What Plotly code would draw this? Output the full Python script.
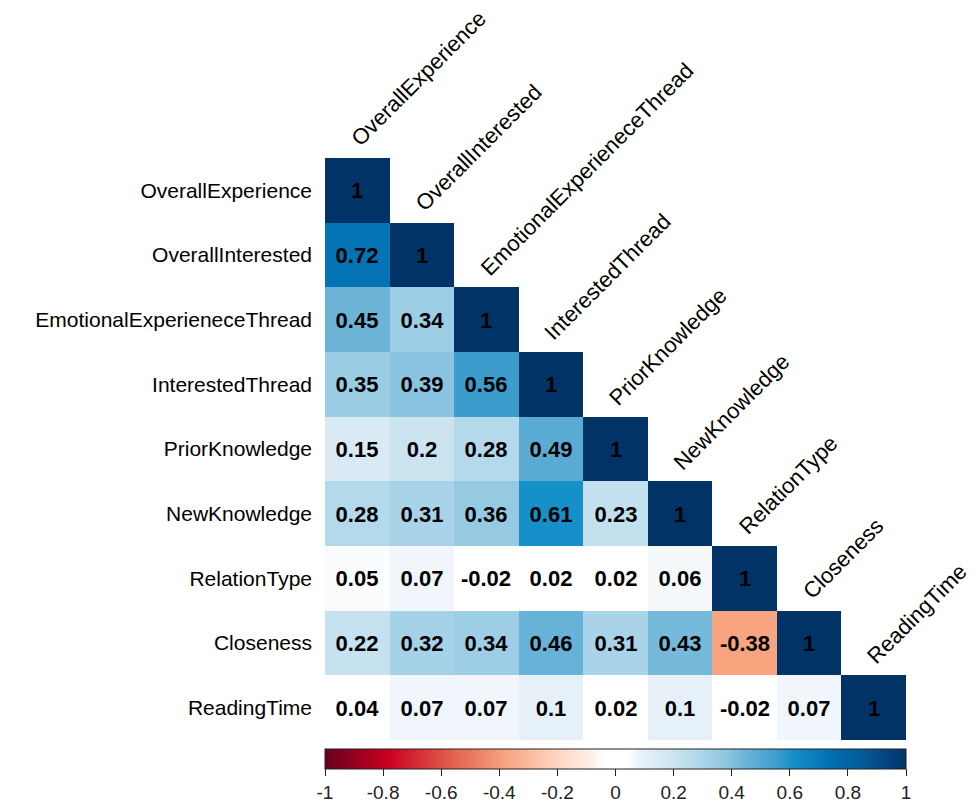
import plotly.graph_objects as go

# Variables of the correlation matrix (row/column order)
variables = [
    "OverallExperience",
    "OverallInterested",
    "EmotionalExperieneceThread",
    "InterestedThread",
    "PriorKnowledge",
    "NewKnowledge",
    "RelationType",
    "Closeness",
    "ReadingTime",
]

# Lower-triangle correlation rows (row i has i+1 values)
r_overall_experience = [1]
r_overall_interested = [0.72, 1]
r_emotional_thread = [0.45, 0.34, 1]
r_interested_thread = [0.35, 0.39, 0.56, 1]
r_prior_knowledge = [0.15, 0.2, 0.28, 0.49, 1]
r_new_knowledge = [0.28, 0.31, 0.36, 0.61, 0.23, 1]
r_relation_type = [0.05, 0.07, -0.02, 0.02, 0.02, 0.06, 1]
r_closeness = [0.22, 0.32, 0.34, 0.46, 0.31, 0.43, -0.38, 1]
r_reading_time = [0.04, 0.07, 0.07, 0.1, 0.02, 0.1, -0.02, 0.07, 1]

lower_rows = [
    r_overall_experience, r_overall_interested, r_emotional_thread,
    r_interested_thread, r_prior_knowledge, r_new_knowledge,
    r_relation_type, r_closeness, r_reading_time,
]

colorbar_ticks = [-1, -0.8, -0.6, -0.4, -0.2, 0, 0.2, 0.4, 0.6, 0.8, 1]
colorbar_ticktext = ["-1", "-0.8", "-0.6", "-0.4", "-0.2", "0", "0.2", "0.4", "0.6", "0.8", "1"]

n = len(variables)
z = [[row[j] if j < len(row) else None for j in range(n)] for row in lower_rows]
text = [[(f"{v:g}" if v is not None else "") for v in row] for row in z]

# Diverging red-white-blue palette, anchors given in correlation units
palette_anchors = [
    (-1.00, "#67001F"),
    (-0.78, "#CA0020"),
    (-0.55, "#E2664F"),
    (-0.38, "#F7A47F"),
    (-0.20, "#FDD5C2"),
    (-0.08, "#FEF1EA"),
    (-0.04, "#FFFFFF"),
    (0.04, "#FFFFFF"),
    (0.08, "#EBF3F9"),
    (0.10, "#E6F0F8"),
    (0.20, "#CCE4F0"),
    (0.28, "#B3D9EB"),
    (0.35, "#9ACCE4"),
    (0.39, "#8AC4E0"),
    (0.45, "#6BB4D8"),
    (0.56, "#3C9CCC"),
    (0.61, "#1690C8"),
    (0.72, "#0373B5"),
    (0.85, "#045A9A"),
    (1.00, "#023366"),
]
scale = [[(v + 1) / 2, c] for v, c in palette_anchors]

FONT = "Liberation Sans, Arial, Helvetica, sans-serif"

fig = go.Figure(
    go.Heatmap(
        z=z,
        x=variables,
        y=variables,
        text=text,
        texttemplate="%{text}",
        textfont=dict(family=FONT, size=22, color="black", weight="bold"),
        colorscale=scale,
        zmin=-1,
        zmax=1,
        hoverinfo="skip",
        colorbar=dict(
            orientation="h",
            x=0.5,
            xanchor="center",
            y=-0.016,
            yanchor="top",
            len=1.0,
            lenmode="fraction",
            thickness=20,
            thicknessmode="pixels",
            xpad=0,
            ypad=0,
            outlinewidth=1,
            outlinecolor="#222",
            tickvals=colorbar_ticks,
            ticktext=colorbar_ticktext,
            ticks="outside",
            ticklen=7,
            tickcolor="#222",
            tickfont=dict(family=FONT, size=19, color="#222"),
        ),
    )
)

# Column names set diagonally above each diagonal cell
for i, name in enumerate(variables):
    fig.add_annotation(
        x=i,
        y=i - 0.5,
        xref="x",
        yref="y",
        text=name,
        textangle=-45,
        showarrow=False,
        xanchor="left",
        yanchor="bottom",
        xshift=-14,
        yshift=4,
        font=dict(family=FONT, size=22, color="black"),
    )

fig.update_xaxes(
    range=[-0.5, n - 0.5],
    autorange=False,
    showticklabels=False,
    showgrid=False,
    zeroline=False,
    showline=False,
    ticks="",
)
fig.update_yaxes(
    range=[n - 0.5, -0.5],
    autorange=False,
    showgrid=False,
    zeroline=False,
    showline=False,
    ticks="",
    ticklabelstandoff=12,
    tickfont=dict(family=FONT, size=21, color="black"),
)

fig.update_layout(
    width=974,
    height=808,
    margin=dict(l=325, r=68, t=158, b=68, autoexpand=False),
    plot_bgcolor="white",
    paper_bgcolor="white",
)

fig.write_html("out.html")
